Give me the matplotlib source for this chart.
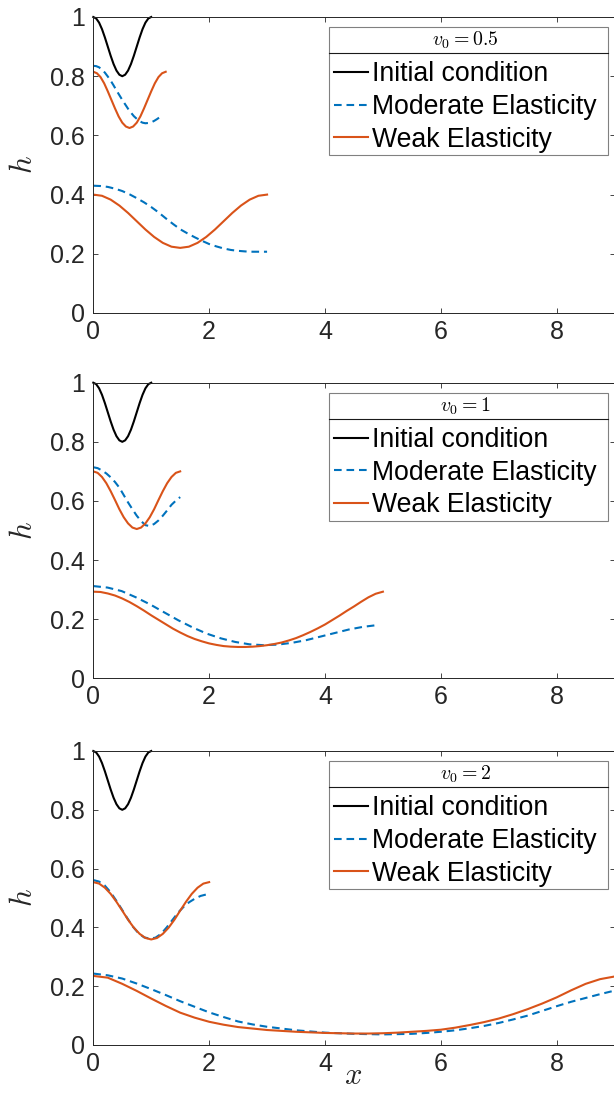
import numpy as np
import matplotlib
matplotlib.use("Agg")
import matplotlib.pyplot as plt
from matplotlib.lines import Line2D
from matplotlib.patches import Rectangle

plt.rcParams['font.family'] = ['Liberation Sans', 'DejaVu Sans']
plt.rcParams['mathtext.fontset'] = 'cm'
plt.rcParams['lines.scale_dashes'] = False

# ---------------- data ----------------
x_ticks = [0, 2, 4, 6, 8]
y_ticks = [0, 0.2, 0.4, 0.6, 0.8, 1]
y_ticklabels = ['0', '0.2', '0.4', '0.6', '0.8', '1']
titles = [r'$v_0 = 0.5$', r'$v_0 = 1$', r'$v_0 = 2$']
labels = ['Initial condition', 'Moderate Elasticity', 'Weak Elasticity']

# initial condition (same in every panel), sampled every 0.05
x_init = np.linspace(0, 1.0, 21)
h_init = [1.000, 0.995, 0.981, 0.959, 0.931, 0.900, 0.869, 0.841, 0.819, 0.805, 0.800,
          0.805, 0.819, 0.841, 0.869, 0.900, 0.931, 0.959, 0.981, 0.995, 1.000]

# ---- panel 1 : v0 = 0.5 ----
x_p1_weak_a = np.linspace(0, 1.25, 21)
h_p1_weak_a = [0.815, 0.810, 0.797, 0.776, 0.749, 0.720, 0.691, 0.664, 0.643, 0.630, 0.625,
               0.630, 0.643, 0.664, 0.691, 0.720, 0.749, 0.776, 0.797, 0.810, 0.815]
x_p1_mod_a = np.linspace(0, 1.2, 25)
h_p1_mod_a = [0.835, 0.834, 0.830, 0.822, 0.812, 0.799, 0.785, 0.769, 0.752, 0.736, 0.720,
              0.705, 0.690, 0.677, 0.665, 0.656, 0.648, 0.643, 0.641, 0.642, 0.644, 0.649,
              0.655, 0.662, 0.669]
x_p1_weak_b = np.linspace(0, 3.0, 21)
h_p1_weak_b = [0.400, 0.396, 0.383, 0.363, 0.338, 0.310, 0.282, 0.257, 0.237, 0.224, 0.220,
               0.224, 0.237, 0.257, 0.282, 0.310, 0.338, 0.363, 0.383, 0.396, 0.400]
x_p1_mod_b = np.linspace(0, 3.0, 25)
h_p1_mod_b = [0.430, 0.429, 0.426, 0.420, 0.412, 0.401, 0.388, 0.374, 0.358, 0.340, 0.320,
              0.301, 0.283, 0.269, 0.256, 0.244, 0.233, 0.225, 0.218, 0.213, 0.210, 0.208,
              0.207, 0.207, 0.207]

# ---- panel 2 : v0 = 1 ----
x_p2_weak_a = np.linspace(0, 1.5, 21)
h_p2_weak_a = [0.700, 0.695, 0.681, 0.660, 0.633, 0.603, 0.572, 0.545, 0.524, 0.510, 0.505,
               0.510, 0.524, 0.545, 0.572, 0.603, 0.633, 0.660, 0.681, 0.695, 0.700]
x_p2_mod_a = np.linspace(0, 1.5, 21)
h_p2_mod_a = [0.714, 0.711, 0.703, 0.693, 0.680, 0.664, 0.645, 0.620, 0.595, 0.572, 0.550,
              0.532, 0.518, 0.515, 0.522, 0.534, 0.550, 0.568, 0.587, 0.601, 0.613]
x_p2_weak_b = np.linspace(0, 5.0, 41)
h_p2_weak_b = [0.293, 0.292, 0.287, 0.280, 0.270, 0.258, 0.244, 0.229, 0.213, 0.198, 0.183,
               0.168, 0.155, 0.143, 0.133, 0.125, 0.118, 0.113, 0.109, 0.107, 0.106, 0.106,
               0.107, 0.109, 0.112, 0.116, 0.121, 0.128, 0.136, 0.146, 0.157, 0.169, 0.182,
               0.197, 0.212, 0.228, 0.243, 0.259, 0.274, 0.286, 0.293]
x_p2_mod_b = np.linspace(0, 4.9, 21)
h_p2_mod_b = [0.312, 0.307, 0.295, 0.274, 0.250, 0.223, 0.196, 0.172, 0.151, 0.135, 0.123,
              0.115, 0.112, 0.114, 0.120, 0.129, 0.141, 0.153, 0.165, 0.174, 0.180]

# ---- panel 3 : v0 = 2 ----
x_p3_weak_a = np.linspace(0, 2.0, 21)
h_p3_weak_a = [0.554, 0.549, 0.535, 0.514, 0.487, 0.457, 0.426, 0.399, 0.378, 0.364, 0.359,
               0.364, 0.378, 0.399, 0.426, 0.457, 0.487, 0.514, 0.535, 0.549, 0.554]
x_p3_mod_a = np.linspace(0, 1.95, 21)
h_p3_mod_a = [0.561, 0.556, 0.543, 0.521, 0.493, 0.463, 0.432, 0.403, 0.380, 0.366, 0.362,
              0.365, 0.378, 0.400, 0.425, 0.450, 0.470, 0.486, 0.498, 0.507, 0.512]
x_p3_weak_b = np.linspace(0, 9.0, 37)
h_p3_weak_b = [0.235, 0.229, 0.208, 0.184, 0.158, 0.133, 0.110, 0.093, 0.079, 0.069, 0.061,
               0.056, 0.051, 0.048, 0.045, 0.043, 0.041, 0.040, 0.039, 0.039, 0.040, 0.042,
               0.045, 0.048, 0.052, 0.059, 0.068, 0.078, 0.090, 0.105, 0.122, 0.141, 0.162,
               0.186, 0.208, 0.224, 0.233]
x_p3_mod_b = np.linspace(0, 9.0, 37)
h_p3_mod_b = [0.243, 0.237, 0.226, 0.209, 0.190, 0.170, 0.149, 0.130, 0.111, 0.095, 0.080,
              0.070, 0.062, 0.056, 0.050, 0.046, 0.042, 0.040, 0.038, 0.037, 0.036, 0.037,
              0.038, 0.041, 0.045, 0.050, 0.057, 0.065, 0.075, 0.087, 0.100, 0.116, 0.132,
              0.147, 0.160, 0.173, 0.185]

panels = [
    (x_p1_mod_a, h_p1_mod_a, x_p1_weak_a, h_p1_weak_a, x_p1_mod_b, h_p1_mod_b, x_p1_weak_b, h_p1_weak_b),
    (x_p2_mod_a, h_p2_mod_a, x_p2_weak_a, h_p2_weak_a, x_p2_mod_b, h_p2_mod_b, x_p2_weak_b, h_p2_weak_b),
    (x_p3_mod_a, h_p3_mod_a, x_p3_weak_a, h_p3_weak_a, x_p3_mod_b, h_p3_mod_b, x_p3_weak_b, h_p3_weak_b),
]

# ---------------- styling ----------------
C_BLACK = '#000000'
C_BLUE = '#0072BD'
C_ORANGE = '#D95319'
AX_COLOR = '#262626'
LW = 1.5
DASH = (5.5, 3.5)
LEG_FS = 19.2
TITLE_FS = 14.3

W, H = 614, 1116
fig = plt.figure(figsize=(W / 100, H / 100), dpi=100)

left_px, right_px = 93.3, 614.6
rows_px = [(17, 313), (382.7, 678.3), (751, 1045)]

# legend box geometry in pixels relative to axes top-left
BOX_L, BOX_R = 329.0, 608.0
BOX_TOP_OFF, BOX_H, TITLE_ROW = 10.0, 128.0, 26.0
CONTENT_L = 331.3
CONTENT_TOP_OFF = 9.8

axes = []
for (top, bot) in rows_px:
    ax = fig.add_axes([left_px / W, 1 - bot / H, (right_px - left_px) / W, (bot - top) / H])
    axes.append(ax)

aw = right_px - left_px
for i, ax in enumerate(axes):
    top, bot = rows_px[i]
    ah = bot - top
    xm_a, hm_a, xw_a, hw_a, xm_b, hm_b, xw_b, hw_b = panels[i]
    l0, = ax.plot(x_init, h_init, color=C_BLACK, lw=LW, clip_on=False)
    l1, = ax.plot(xm_a, hm_a, color=C_BLUE, lw=LW, dashes=DASH)
    l2, = ax.plot(xw_a, hw_a, color=C_ORANGE, lw=LW)
    ax.plot(xm_b, hm_b, color=C_BLUE, lw=LW, dashes=DASH)
    ax.plot(xw_b, hw_b, color=C_ORANGE, lw=LW)

    ax.set_xlim(0, 9)
    ax.set_ylim(0, 1)
    ax.set_xticks(x_ticks)
    ax.set_xticklabels([str(t) for t in x_ticks])
    ax.set_yticks(y_ticks)
    ax.set_yticklabels(y_ticklabels)
    ax.tick_params(direction='in', length=3.8, width=0.6, colors=AX_COLOR,
                   labelsize=18, top=True, right=True, pad=6)
    ax.tick_params(axis='x', pad=5)
    for s in ax.spines.values():
        s.set_color(AX_COLOR)
        s.set_linewidth(0.7)
    ax.set_ylabel(r'$h$', fontsize=22, color=AX_COLOR)
    ax.yaxis.set_label_coords(-0.105, 0.5)

    # legend frame (drawn manually so the title row can be separated)
    bx0 = (BOX_L - left_px) / aw
    bx1 = (BOX_R - left_px) / aw
    by1 = 1 - BOX_TOP_OFF / ah
    by0 = 1 - (BOX_TOP_OFF + BOX_H) / ah
    ax.add_patch(Rectangle((bx0, by0), bx1 - bx0, by1 - by0, transform=ax.transAxes,
                           facecolor='white', edgecolor='#808080', lw=0.8,
                           zorder=4.5, clip_on=False))
    ysep = 1 - (BOX_TOP_OFF + TITLE_ROW) / ah
    ax.add_line(Line2D([bx0, bx1], [ysep, ysep], transform=ax.transAxes,
                       color='#1a1a1a', lw=0.8, zorder=4.6, clip_on=False))

    leg = ax.legend([l0, l1, l2], labels, title=titles[i],
                    loc='upper left',
                    bbox_to_anchor=((CONTENT_L - left_px) / aw, 1 - CONTENT_TOP_OFF / ah),
                    borderaxespad=0, fontsize=LEG_FS, title_fontsize=TITLE_FS,
                    handlelength=1.28, handletextpad=0.16, borderpad=0.1,
                    labelspacing=0.25, frameon=False)
    leg._legend_box.sep = 7.6

axes[-1].set_xlabel(r'$x$', fontsize=22, color=AX_COLOR)
axes[-1].xaxis.set_label_coords(0.498, -0.055)

fig.savefig('out.png', dpi=100)
